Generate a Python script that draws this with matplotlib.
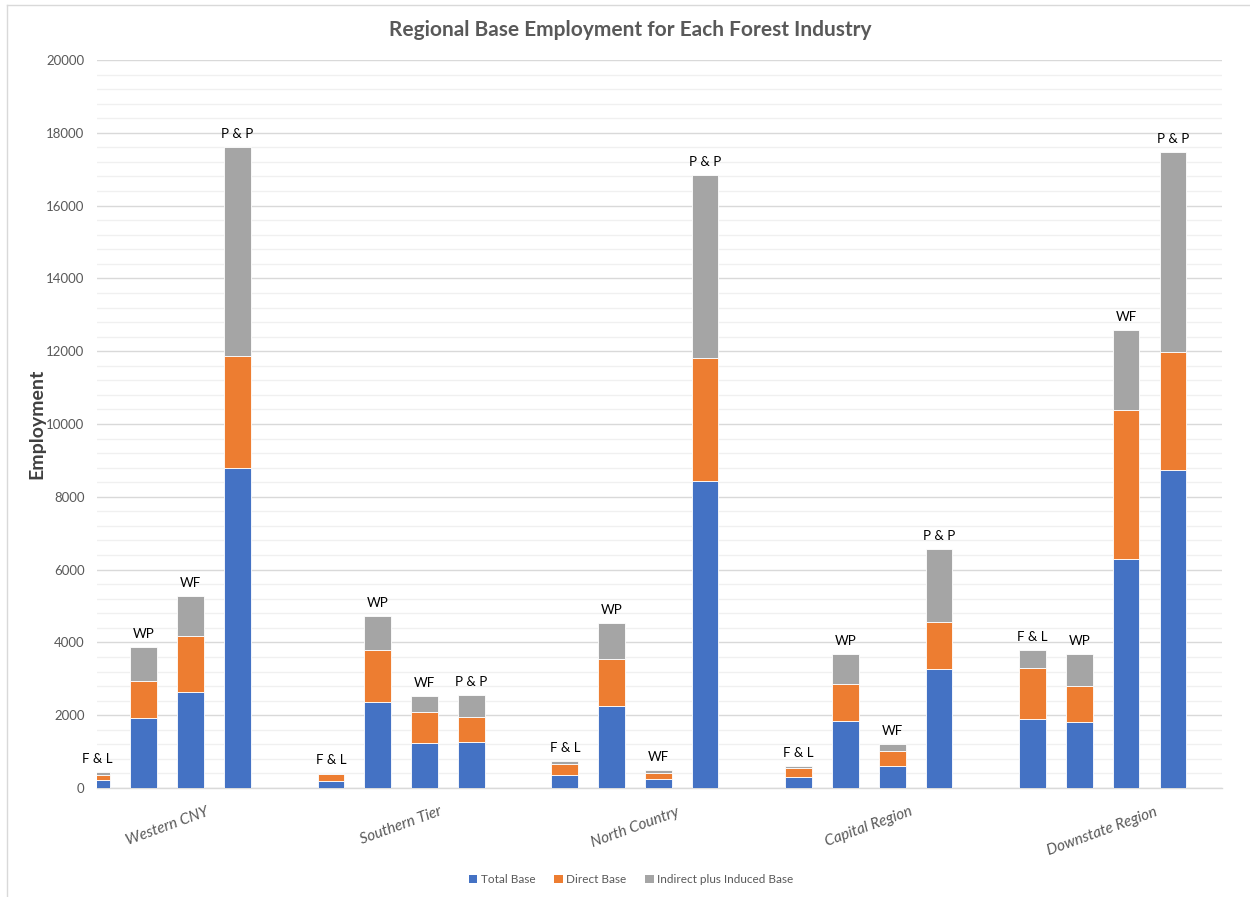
import numpy as np
import matplotlib.pyplot as plt
from matplotlib.ticker import MultipleLocator
from matplotlib.patches import Patch

plt.rcParams['font.family'] = ['Lato', 'DejaVu Sans']

regions = ["Western CNY", "Southern Tier", "North Country", "Capital Region", "Downstate Region"]
industries = ["F & L", "WP", "WF", "P & P"]

# employment per region, ordered F & L, WP, WF, P & P
total_base = [
    [220, 1930, 2640, 8780],
    [190, 2350, 1250, 1270],
    [370, 2250, 250, 8430],
    [290, 1830, 600, 3270],
    [1890, 1820, 6290, 8730],
]
direct_base = [
    [150, 1010, 1540, 3100],
    [185, 1440, 850, 680],
    [290, 1290, 170, 3380],
    [250, 1020, 410, 1290],
    [1420, 990, 4090, 3260],
]
indirect_induced = [
    [60, 940, 1100, 5720],
    [30, 930, 420, 600],
    [90, 990, 80, 5030],
    [60, 840, 210, 2000],
    [480, 860, 2200, 5490],
]

colors = ["#4472c4", "#ed7d31", "#a5a5a5"]
series_names = ["Total Base", "Direct Base", "Indirect plus Induced Base"]

fig = plt.figure(figsize=(12.5, 8.97), dpi=100)
ax = fig.add_axes([0.0776, 0.1215, 0.9, 0.8116])

# four bars per region, one empty slot between regions
x = np.array([g * 5 + i for g in range(len(regions)) for i in range(len(industries))], dtype=float)
tb = np.array(total_base).ravel()
db = np.array(direct_base).ravel()
ib = np.array(indirect_induced).ravel()

w = 0.57
ax.bar(x, tb, w, color=colors[0], edgecolor="white", linewidth=0.6, zorder=3)
ax.bar(x, db, w, bottom=tb, color=colors[1], edgecolor="white", linewidth=0.6, zorder=3)
ax.bar(x, ib, w, bottom=tb + db, color=colors[2], edgecolor="white", linewidth=0.6, zorder=3)

tops = tb + db + ib
for xi, top, lab in zip(x, tops, industries * len(regions)):
    ax.annotate(lab, (xi, top), xytext=(0, 5), textcoords="offset points",
                ha="center", va="bottom", fontsize=9.5, color="#000000")

ax.set_xlim(0, 24.05)
ax.set_ylim(0, 20000)
ax.yaxis.set_major_locator(MultipleLocator(2000))
ax.yaxis.set_minor_locator(MultipleLocator(400))
ax.grid(which="major", axis="y", color="#d9d9d9", linewidth=1.0, zorder=0)
ax.grid(which="minor", axis="y", color="#f0f0f0", linewidth=1.0, zorder=0)
ax.tick_params(axis="y", which="both", length=0, labelsize=9.5, labelcolor="#595959", pad=9)
ax.tick_params(axis="x", length=0, pad=12)

group_centers = [g * 5 + 1.5 for g in range(len(regions))]
ax.set_xticks(group_centers)
ax.set_xticklabels(regions, rotation=20, ha="center", fontsize=11,
                   style="italic", color="#595959")

for side in ["top", "right", "left"]:
    ax.spines[side].set_visible(False)
ax.spines["bottom"].set_color("#d9d9d9")
ax.spines["bottom"].set_linewidth(1.0)

ax.set_ylabel("Employment", fontsize=14, fontweight="bold", color="#404040")
ax.yaxis.set_label_coords(-0.046, 0.5)

fig.text(0.504, 0.967, "Regional Base Employment for Each Forest Industry",
         ha="center", va="center", fontsize=15, fontweight="bold", color="#595959")

handles = [Patch(facecolor=c, label=n) for c, n in zip(colors, series_names)]
leg = fig.legend(handles=handles, loc="center", bbox_to_anchor=(0.505, 0.019), ncol=3,
                 frameon=False, fontsize=8.5, handlelength=0.7, handleheight=0.7,
                 handletextpad=0.3, columnspacing=1.6)
for t in leg.get_texts():
    t.set_color("#595959")

# outer chart border
fig.add_artist(plt.Line2D([0.0056, 0.0056], [0.0, 0.9944], color="#d9d9d9", linewidth=1.0))
fig.add_artist(plt.Line2D([0.0056, 1.0], [0.9944, 0.9944], color="#d9d9d9", linewidth=1.0))

fig.savefig("out.png", dpi=100)
